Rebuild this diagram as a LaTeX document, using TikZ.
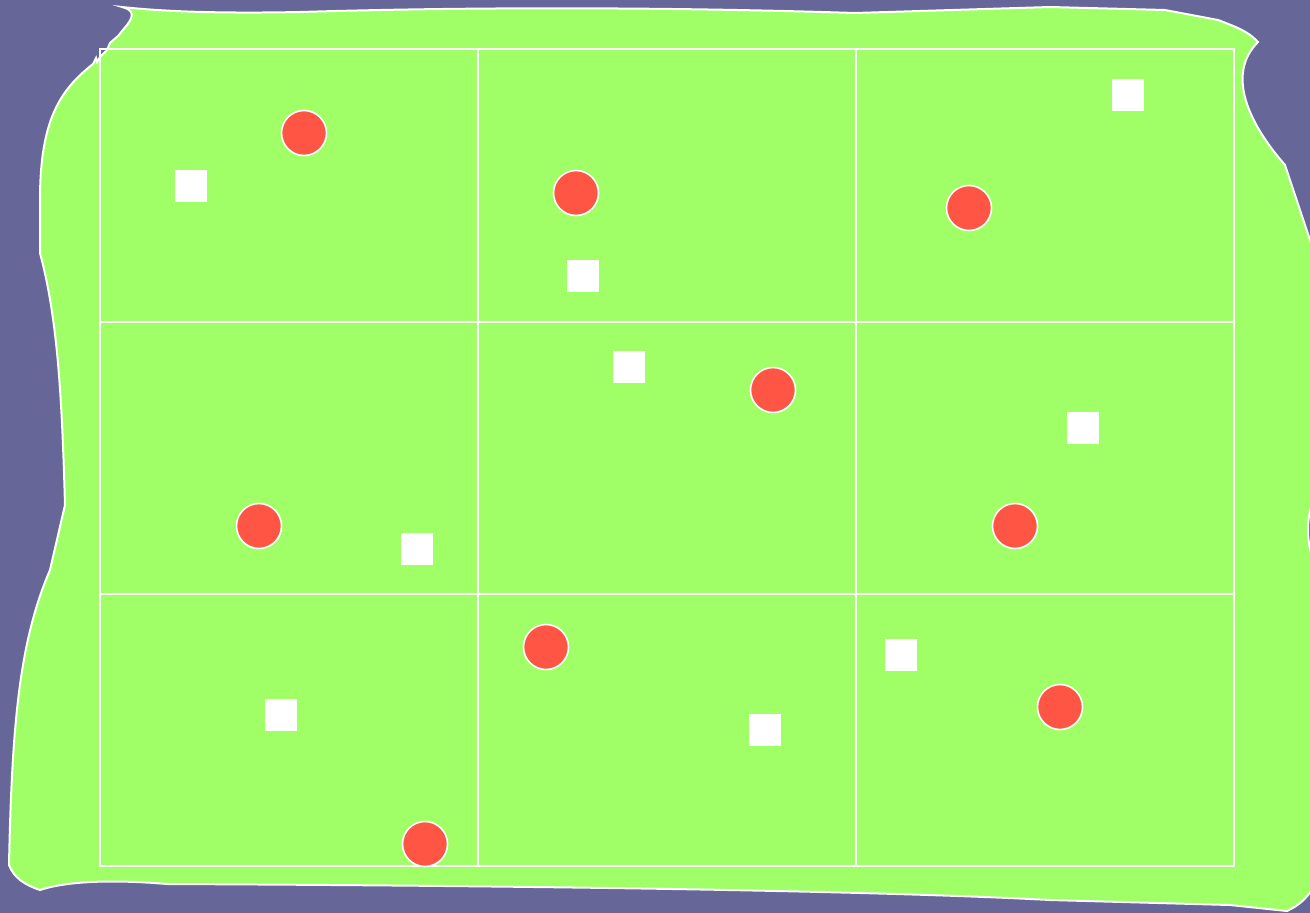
\documentclass[tikz,border=0pt]{standalone}
\definecolor{bgpurple}{HTML}{666699}
\definecolor{blobgreen}{HTML}{A0FF66}
\definecolor{dotred}{HTML}{FF5544}
\tikzset{
  blob/.style={fill=blobgreen, draw=white, line width=2pt},
  gridline/.style={draw=white, line width=2pt},
  dot/.style={circle, fill=dotred, draw=white, line width=1.6pt, minimum size=45pt, inner sep=0pt},
  sq/.style={rectangle, fill=white, draw=none, minimum size=32pt, inner sep=0pt}
}
\begin{document}
\begin{tikzpicture}[x=1pt,y=-1pt]
\useasboundingbox (0,0) rectangle (1310,913);
\fill[bgpurple] (0,0) rectangle (1310,913);
% irregular green blob
\draw[blob] (122,7) .. controls (134,10) and (134,16) .. (127,25) -- (118,36) -- (110,43) -- (107,50) -- (100,57) -- (97,62) -- (96,58) -- (93,64)
  .. controls (60,90) and (40,120) .. (40,200) -- (40,253)
  .. controls (58,320) and (62,400) .. (65,505) -- (50,570)
  .. controls (20,640) and (12,720) .. (9,865)
  .. controls (14,878) and (25,885) .. (40,890)
  .. controls (70,880) and (120,880) .. (167,884)
  .. controls (600,886) and (900,892) .. (1050,900) -- (1230,905) -- (1287,911)
  .. controls (1300,905) and (1306,898) .. (1312,890) -- (1314,560)
  .. controls (1306,545) and (1306,515) .. (1314,500) -- (1314,250) -- (1310,240) -- (1285,165)
  .. controls (1250,125) and (1225,75) .. (1258,42)
  .. controls (1250,34) and (1245,30) .. (1218,20) -- (1165,10) -- (1050,7) -- (855,13)
  .. controls (700,8) and (500,6) .. (300,12)
  .. controls (200,14) and (150,10) .. (122,7) -- cycle;
% grid
\draw[gridline] (100,49) rectangle (1234,866);
\draw[gridline] (478,49) -- (478,866);
\draw[gridline] (856,49) -- (856,866);
\draw[gridline] (100,322) -- (1234,322);
\draw[gridline] (100,594) -- (1234,594);
% red dots
\node[dot] (c1) at (304,133) {};
\node[dot] (c2) at (576,193) {};
\node[dot] (c3) at (969,208) {};
\node[dot] (c4) at (773,390) {};
\node[dot] (c5) at (259,526) {};
\node[dot] (c6) at (1015,526) {};
\node[dot] (c7) at (546,647) {};
\node[dot] (c8) at (1060,707) {};
\node[dot] (c9) at (425,844) {};
% white squares
\node[sq] (s1) at (191,186) {};
\node[sq] (s2) at (1128,95) {};
\node[sq] (s3) at (583,276) {};
\node[sq] (s4) at (629,367) {};
\node[sq] (s5) at (1083,428) {};
\node[sq] (s6) at (417,549) {};
\node[sq] (s7) at (901,655) {};
\node[sq] (s8) at (281,715) {};
\node[sq] (s9) at (765,730) {};
\end{tikzpicture}
\end{document}
